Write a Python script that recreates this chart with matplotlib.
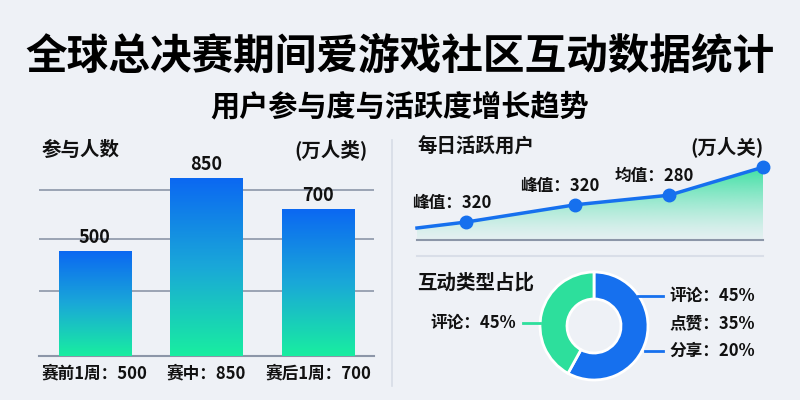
import numpy as np
import matplotlib
matplotlib.use("Agg")
import matplotlib.pyplot as plt
from matplotlib.colors import LinearSegmentedColormap
from matplotlib.lines import Line2D

plt.rcParams['font.family'] = ['Noto Sans CJK SC', 'DejaVu Sans']

# ---- data ----
title = "全球总决赛期间爱游戏社区互动数据统计"
subtitle = "用户参与度与活跃度增长趋势"

bar_title = "参与人数"
bar_unit = "(万人类)"
bar_categories = ["赛前1周：500", "赛中：850", "赛后1周：700"]
bar_values = [500, 850, 700]
bar_grid = [311, 559, 793]

line_title = "每日活跃用户"
line_unit = "(万人关)"
line_x = [0, 1, 3.2, 5.1, 7]
line_values = [180, 195, 238, 262, 332]
line_labels = ["", "峰值：320", "峰值：320", "均值：280", ""]

pie_title = "互动类型占比"
pie_values = [58, 42]
pie_left_label = "评论：45%"
pie_right_labels = ["评论：45%", "点赞：35%", "分享：20%"]

BG = "#eef1f6"
BLUE = "#1670ee"
GREEN = "#2ddf9c"
GRID = "#8c96a8"
TXT = "#111111"
WT = "bold"

W, H = 800, 400
fig = plt.figure(figsize=(8, 4), dpi=100, facecolor=BG)


def fx(x):
    return x / W


def fy(y):
    return 1 - y / H


def add_ax(l, t, r, b):
    return fig.add_axes([fx(l), fy(b), (r - l) / W, (b - t) / H])


# ---- titles ----
fig.text(0.5, fy(57), title, ha="center", va="center", fontsize=30,
         fontweight="heavy", color="#000000")
fig.text(0.5, fy(106), subtitle, ha="center", va="center", fontsize=21,
         fontweight="bold", color="#000000")

# ---- bar chart ----
ax1 = add_ax(39, 176, 374, 356)
ax1.set_facecolor("none")
bar_cmap = LinearSegmentedColormap.from_list("bg", ["#18eea0", "#1aa8d8", "#0b68f2"])
grad = np.linspace(0, 1, 256).reshape(-1, 1)
xs = np.arange(len(bar_values))
bars = ax1.bar(xs, bar_values, width=0.65, color="none", edgecolor="none", zorder=3)
for b, v in zip(bars, bar_values):
    x0 = b.get_x()
    im = ax1.imshow(grad, extent=[x0, x0 + b.get_width(), 0, v], origin="lower",
                    aspect="auto", cmap=bar_cmap, zorder=3)
    im.set_clip_path(b)
    ax1.annotate(str(v), (b.get_x() + b.get_width() / 2, v), xytext=(0, 3),
                 textcoords="offset points", ha="center", va="bottom",
                 fontsize=13, fontweight=WT, color=TXT)
ax1.set_xlim(-0.5, 2.5)
ax1.set_ylim(0, 860)
ax1.set_yticks(bar_grid)
ax1.yaxis.grid(True, color=GRID, lw=1.2, zorder=1)
ax1.set_axisbelow(True)
ax1.tick_params(axis="y", length=0, labelleft=False)
ax1.set_xticks(xs)
ax1.set_xticklabels(bar_categories, fontsize=12, fontweight=WT, color=TXT)
ax1.tick_params(axis="x", length=0, pad=6)
for s in ["top", "right", "left"]:
    ax1.spines[s].set_visible(False)
ax1.spines["bottom"].set_color(GRID)
ax1.spines["bottom"].set_linewidth(1.5)

fig.text(fx(42), fy(150), bar_title, ha="left", va="center", fontsize=14,
         fontweight="bold", color=TXT)
fig.text(fx(368), fy(150), bar_unit, ha="right", va="center", fontsize=14,
         fontweight=WT, color=TXT)

# separator
fig.add_artist(Line2D([fx(392), fx(392)], [fy(140), fy(386)], color="#d6dce6", lw=1.2))

# ---- line chart ----
ax2 = add_ax(417, 160, 763, 240)
ax2.set_facecolor("none")
xx = np.array(line_x)
yy = np.array(line_values)
poly = ax2.fill_between(xx, yy, 150, color="none", lw=0)
rgba = np.zeros((256, 1, 4))
t = np.linspace(0, 1, 256)
g = np.array([0x2d, 0xdf, 0x9c]) / 255
rgba[:, 0, :3] = g
rgba[:, 0, 3] = 0.05 + 0.9 * t ** 1.3
im2 = ax2.imshow(rgba, extent=[xx[0], xx[-1], 150, 335], origin="lower",
                 aspect="auto", zorder=1)
im2.set_clip_path(poly.get_paths()[0], ax2.transData)
ax2.set_xlim(line_x[0], line_x[-1])
ax2.set_ylim(150, 350)
ax2.plot(xx, yy, color=BLUE, lw=2.5, marker="o", markersize=9,
         markevery=[1, 2, 3, 4], zorder=4, clip_on=False)
for x, y, lab in zip(line_x, line_values, line_labels):
    if lab:
        ax2.annotate(lab, (x, y), xytext=(-15, 19), textcoords="offset pixels",
                     ha="center", va="center", fontsize=12, fontweight=WT, color=TXT)
ax2.set_xticks([])
ax2.set_yticks([])
for s in ["top", "right", "left"]:
    ax2.spines[s].set_visible(False)
ax2.spines["bottom"].set_color(GRID)
ax2.spines["bottom"].set_linewidth(1.5)
fig.add_artist(Line2D([fx(417), fx(763)], [fy(256), fy(256)], color="#d9dee8", lw=1.5))

fig.text(fx(417), fy(147), line_title, ha="left", va="center", fontsize=14,
         fontweight="bold", color=TXT)
fig.text(fx(764), fy(147), line_unit, ha="right", va="center", fontsize=14,
         fontweight=WT, color=TXT)

# ---- donut ----
ax3 = add_ax(534, 266, 654, 386)
ax3.set_facecolor("none")
ax3.pie(pie_values, colors=[BLUE, GREEN], startangle=90, counterclock=False,
        radius=1, wedgeprops=dict(width=0.5, edgecolor="white", linewidth=2))
ax3.set_xlim(-1.111, 1.111)
ax3.set_ylim(-1.111, 1.111)
ax3.set_aspect("equal")
ax3.axis("off")

fig.text(fx(417), fy(283), pie_title, ha="left", va="center", fontsize=14,
         fontweight="bold", color=TXT)
fig.text(fx(516), fy(323), pie_left_label, ha="right", va="center", fontsize=12,
         fontweight=WT, color=TXT)
fig.add_artist(Line2D([fx(523), fx(540)], [fy(323), fy(323)], color=GREEN, lw=2))
ys = [296, 323, 351]
for lab, y in zip(pie_right_labels, ys):
    fig.text(fx(669), fy(y), lab, ha="left", va="center", fontsize=12,
             fontweight=WT, color=TXT)
fig.add_artist(Line2D([fx(638), fx(663)], [fy(296), fy(296)], color=BLUE, lw=2))
fig.add_artist(Line2D([fx(645), fx(663)], [fy(351), fy(351)], color=BLUE, lw=2))

fig.savefig("out.png", dpi=100, facecolor=BG)
